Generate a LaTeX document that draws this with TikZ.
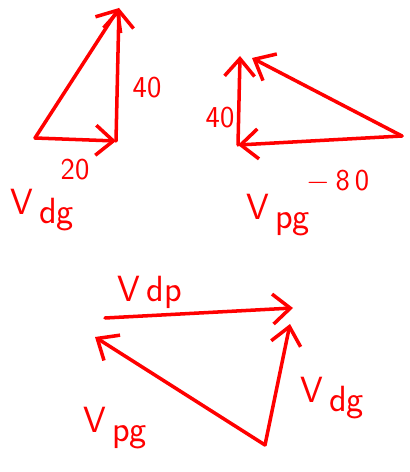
\documentclass[tikz,border=0pt]{standalone}
\usepackage{tikz}
\usetikzlibrary{arrows.meta}

\begin{document}
\begin{tikzpicture}[>={Straight Barb[length=3.5mm,width=6mm]}, x=0.02cm, y=-0.02cm]
\tikzstyle{vec}=[draw=red,line width=2pt,line cap=round,line join=round,->]
\tikzstyle{lab}=[text=red,font=\sffamily\huge,inner sep=0pt]
\tikzstyle{num}=[text=red,font=\sffamily\LARGE,inner sep=0pt]
\useasboundingbox (0,0) rectangle (409,472);
\coordinate (a1) at (35,138);
\coordinate (b1) at (116,141);
\coordinate (c1) at (119,8);
\coordinate (a2) at (402,136);
\coordinate (b2) at (238,145);
\coordinate (c2) at (240,56);
\coordinate (d2) at (252,58);
\coordinate (p) at (265,445);
\coordinate (q) at (95,337);
\coordinate (r) at (105,318);
\coordinate (s) at (293,308);
\coordinate (t) at (290,324);
\draw[vec] (a1) -- (b1);
\draw[vec] (b1) -- (c1);
\draw[vec] (a1) -- (c1);
\draw[vec] (a2) -- (b2);
\draw[vec] (b2) -- (c2);
\draw[vec] (a2) -- (d2);
\draw[vec] (r) -- (s);
\draw[vec] (p) -- (t);
\draw[vec] (p) -- (q);
\node[num] (n20) at (75,170) {20};
\node[num] (n40a) at (147,88) {40};
\node[lab] (vdg1) at (42,210) {V\,\raisebox{-0.6ex}{dg}};
\node[num] (n40b) at (220,118) {40};
\node[num] (n80) at (338,182) {$-$\,8\,0};
\node[lab] (vpg1) at (278,215) {V\,\raisebox{-0.6ex}{pg}};
\node[lab] (vdp) at (150,292) {V\,dp};
\node[lab] (vdg2) at (332,398) {V\,\raisebox{-0.6ex}{dg}};
\node[lab] (vpg2) at (115,428) {V\,\raisebox{-0.6ex}{pg}};
\end{tikzpicture}
\end{document}
